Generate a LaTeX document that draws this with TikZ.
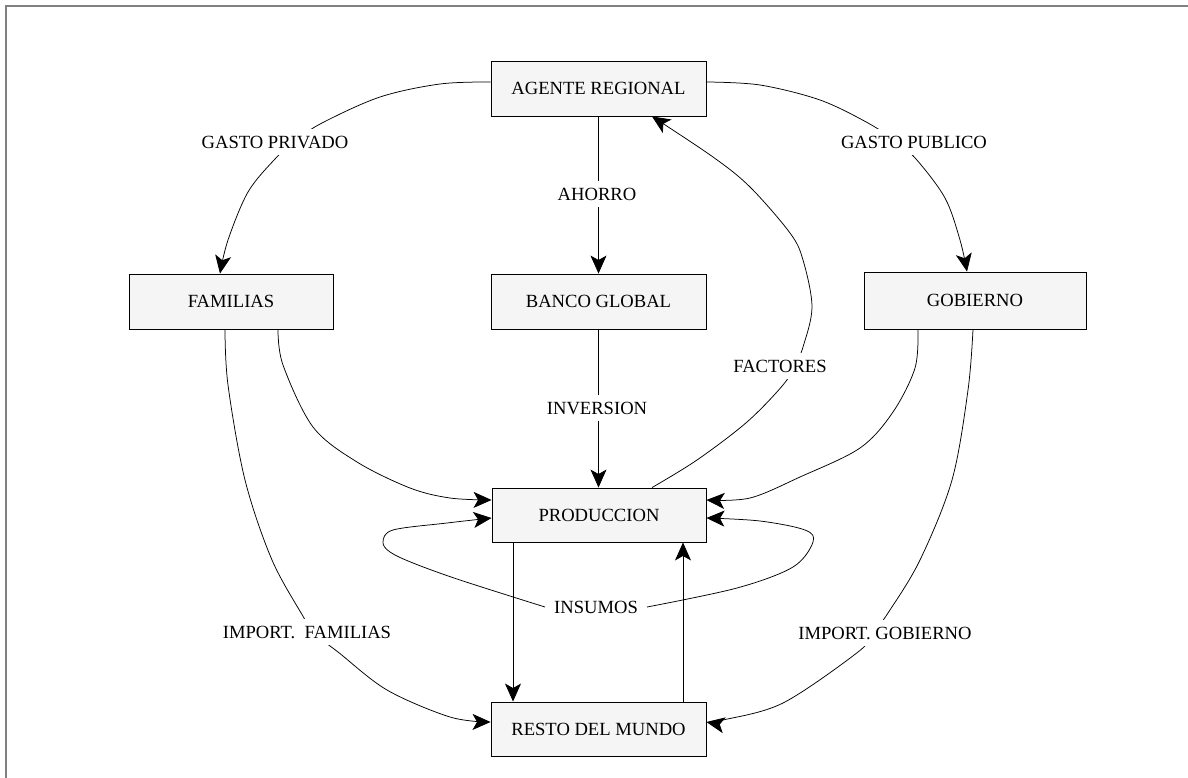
\documentclass[tikz,border=0pt]{standalone}
\usepackage{fontspec}
\setmainfont{Liberation Serif}
\usetikzlibrary{arrows.meta}
\definecolor{boxfill}{HTML}{F5F5F5}
\definecolor{framegray}{HTML}{808080}
\begin{document}
\begin{tikzpicture}[x=1pt,y=-1pt,
  font=\fontsize{18.6}{21}\selectfont,
  box/.style={draw=black, line width=0.9pt, fill=boxfill, inner sep=0pt, minimum width=215pt, minimum height=55pt},
  lbl/.style={fill=white, inner sep=7pt},
  conn/.style={line width=0.75pt},
  arr/.style={conn, -{Stealth[length=18pt, width=16pt, inset=4.5pt]}},
  curve/.style={smooth, tension=0.55}]
\useasboundingbox (0,0) rectangle (1188,778);
% frame
\draw[framegray, line width=2pt] (6,778) -- (6,6) -- (1188,6);

% boxes
\node[box] (agente) at (598.5,88.5) {AGENTE REGIONAL};
\node[box, minimum width=204pt] (familias) at (231,301.5) {FAMILIAS};
\node[box] (banco) at (598.5,301.5) {BANCO GLOBAL};
\node[box, minimum width=222pt, minimum height=57pt] (gobierno) at (975,300.5) {GOBIERNO};
\node[box, minimum width=214pt, minimum height=54pt] (produccion) at (599,515) {PRODUCCION};
\node[box, minimum height=54pt] (resto) at (598.5,729) {RESTO DEL MUNDO};

% curved connectors
\draw[arr] plot[curve] coordinates {([yshift=6.5pt]agente.west) (440,84) (380,97) (322,123) (295,141) (275,159) (248,192) (228,240) ([xshift=-11pt]familias.north)};
\draw[arr] plot[curve] coordinates {([yshift=6.5pt]agente.east) (760,85) (820,100) (868,123) (895,141) (916,159) (945,198) (960,240) ([xshift=-8pt]gobierno.north)};
\draw[arr] (agente.south) -- (banco.north);
\draw[arr] (banco.south) -- (banco.south |- produccion.north);
\draw[arr] plot[curve] coordinates {([xshift=47pt]familias.south) (283,365) (313,427) (357,462) (410,488) (450,498) ([yshift=15pt]produccion.west)};
\draw[arr] plot[curve] coordinates {([xshift=-6pt]familias.south) (228,385) (245,480) (272,560) (304,618) (312,632) (338,652) (387,690) (450,717) ([yshift=7pt]resto.west)};
\draw[arr] plot[curve] coordinates {([xshift=-57pt]gobierno.south) (915,368) (893,412) (860,448) (800,477) (750,498) ([yshift=15pt]produccion.east)};
\draw[arr] plot[curve] coordinates {([xshift=-2pt]gobierno.south) (968,390) (952,480) (920,560) (888,613) (873,633) (858,652) (783,703) (723,720) ([yshift=7pt]resto.east)};
\draw[arr] plot[curve] coordinates {([xshift=53pt]produccion.north) (697,460) (747,422) (783,385) (795,365) (803,347) (812,307) (803,260) (790,233) (750,187) (713,157) ([xshift=53.5pt]agente.south)};
\draw[arr] ([xshift=-86pt]produccion.south) -- ([xshift=-86pt]produccion.south |- resto.north);
\draw[arr] ([xshift=84.5pt]resto.north) -- ([xshift=84.5pt]resto.north |- produccion.south);

% labels
\node[lbl] (lgpriv) at (275,142) {GASTO PRIVADO};
\node[lbl] (lgpub) at (914,142) {GASTO PUBLICO};
\node[lbl] (lahorro) at (597,194) {AHORRO};
\node[lbl] (linv) at (597,408) {INVERSION};
\node[lbl] (lfact) at (780,366) {FACTORES};
\node[lbl] (limpf) at (307,632) {IMPORT.\ \ FAMILIAS};
\node[lbl] (limpg) at (885,633) {IMPORT. GOBIERNO};
\node[lbl] (lins) at (596,607) {INSUMOS};

% insumos loops
\draw[arr] plot[curve] coordinates {([xshift=-2pt]lins.west) (460,580) (413,563) (390,552) (383,542) (393,530) (447,523) ([yshift=-3pt]produccion.west)};
\draw[arr] plot[curve] coordinates {([xshift=2pt]lins.east) (737,588) (793,567) (813,542) (805,530) (760,521) ([yshift=-3pt]produccion.east)};
\end{tikzpicture}
\end{document}
